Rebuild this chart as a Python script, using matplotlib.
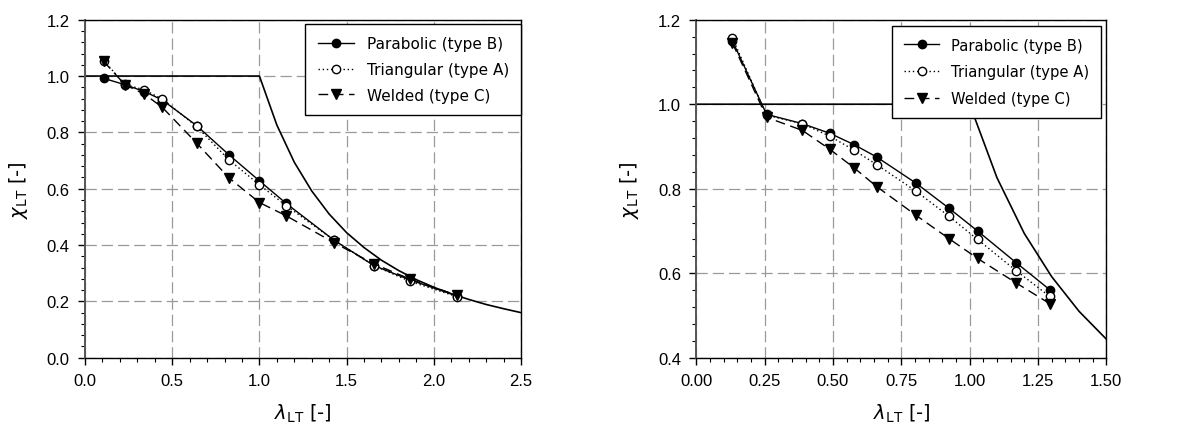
import numpy as np
import matplotlib
matplotlib.use('Agg')
import matplotlib.pyplot as plt
from matplotlib.ticker import MultipleLocator

# ─────────────────────────────────────────
# DATA
# ─────────────────────────────────────────

# left panel
LAM_L = [0.107, 0.229, 0.340, 0.443, 0.640, 0.826, 1.000, 1.153, 1.426, 1.657, 1.864, 2.131]
PARAB_L = [0.992, 0.969, 0.945, 0.915, 0.824, 0.720, 0.628, 0.548, 0.418, 0.327, 0.276, 0.220]
TRIANG_L = [1.055, 0.970, 0.951, 0.918, 0.821, 0.702, 0.614, 0.540, 0.418, 0.327, 0.271, 0.217]
WELDED_L = [1.052, 0.969, 0.936, 0.889, 0.762, 0.638, 0.551, 0.504, 0.409, 0.333, 0.279, 0.222]

# right panel
LAM_R = [0.132, 0.257, 0.388, 0.489, 0.578, 0.660, 0.804, 0.924, 1.029, 1.170, 1.293]
PARAB_R = [1.150, 0.976, 0.954, 0.931, 0.904, 0.875, 0.813, 0.754, 0.700, 0.625, 0.561]
TRIANG_R = [1.157, 0.974, 0.954, 0.924, 0.891, 0.857, 0.794, 0.735, 0.680, 0.606, 0.545]
WELDED_R = [1.145, 0.969, 0.938, 0.893, 0.849, 0.805, 0.737, 0.682, 0.635, 0.577, 0.528]

# reference (code) curve, sampled every 0.1
LAM_REF = [0.0, 1.0, 1.1, 1.2, 1.3, 1.4, 1.5, 1.6, 1.7, 1.8, 1.9, 2.0, 2.1, 2.2, 2.3, 2.4, 2.5]
CHI_REF = [1.0, 1.0, 0.826, 0.694, 0.592, 0.510, 0.444, 0.391, 0.346, 0.309, 0.277,
           0.250, 0.227, 0.207, 0.189, 0.174, 0.160]

SERIES_LABELS = ['Parabolic (type B)', 'Triangular (type A)', 'Welded (type C)']

plt.rcParams['mathtext.fontset'] = 'dejavusans'

fig = plt.figure(figsize=(11.96, 4.35), dpi=100)
ax_l = fig.add_axes([0.0711, 0.1754, 0.3645, 0.777])
ax_r = fig.add_axes([0.5822, 0.1754, 0.3428, 0.777])

LABEL_FONT = 'DejaVu Sans'
TICK_FONT = 'Liberation Sans'


def draw_panel(ax, lam, parab, triang, welded, xlim, ylim, xmaj, xmin, xfmt,
               legend_bbox, legend_size, legend_spacing):
    ax.plot(LAM_REF, CHI_REF, color='black', lw=1.2, zorder=2)
    ax.plot(lam, parab, color='black', lw=1.0, ls='-', marker='o', ms=6,
            mfc='black', mec='black', label=SERIES_LABELS[0], zorder=4)
    ax.plot(lam, triang, color='black', lw=1.0, ls=(0, (1, 2)), marker='o', ms=6,
            mfc='white', mec='black', label=SERIES_LABELS[1], zorder=5)
    ax.plot(lam, welded, color='black', lw=1.0, ls=(0, (7, 4)), marker='v', ms=6.5,
            mfc='black', mec='black', label=SERIES_LABELS[2], zorder=6)

    ax.set_xlim(*xlim)
    ax.set_ylim(*ylim)
    ax.xaxis.set_major_locator(MultipleLocator(xmaj))
    ax.xaxis.set_minor_locator(MultipleLocator(xmin))
    ax.yaxis.set_major_locator(MultipleLocator(0.2))
    ax.yaxis.set_minor_locator(MultipleLocator(0.04))
    ax.xaxis.set_major_formatter(plt.FormatStrFormatter(xfmt))
    ax.yaxis.set_major_formatter(plt.FormatStrFormatter('%.1f'))

    ax.grid(True, which='major', color='#9a9a9a', ls=(0, (9, 4)), lw=0.9, zorder=1)
    ax.tick_params(which='both', direction='out', top=False, right=False)
    ax.tick_params(which='major', length=5, width=1, labelsize=12, pad=6)
    ax.tick_params(which='minor', length=3, width=0.8)
    for lab in ax.get_xticklabels() + ax.get_yticklabels():
        lab.set_fontfamily(TICK_FONT)
    for sp in ax.spines.values():
        sp.set_linewidth(1.0)
        sp.set_color('black')
    ax.spines['left'].set_color('#555555')
    ax.spines['left'].set_linewidth(1.4)

    ax.set_xlabel(r'$\lambda_{\mathrm{LT}}$ [-]', fontsize=14, family=LABEL_FONT, labelpad=10)
    ax.set_ylabel(r'$\chi_{\mathrm{LT}}$ [-]', fontsize=14, family=LABEL_FONT, labelpad=12)

    leg = ax.legend(loc='upper right', bbox_to_anchor=legend_bbox, frameon=True,
                    fancybox=False, edgecolor='black', framealpha=1,
                    prop={'family': LABEL_FONT, 'size': legend_size},
                    handlelength=2.4, handletextpad=0.8, labelspacing=legend_spacing,
                    borderpad=0.8, borderaxespad=0)
    leg.get_frame().set_linewidth(1.0)
    leg.set_zorder(10)


draw_panel(ax_l, LAM_L, PARAB_L, TRIANG_L, WELDED_L, (0, 2.5), (0, 1.2),
           0.5, 0.1, '%.1f', (1.0, 0.987), 11, 0.7)
draw_panel(ax_r, LAM_R, PARAB_R, TRIANG_R, WELDED_R, (0, 1.5), (0.4, 1.2),
           0.25, 0.05, '%.2f', (0.987, 0.982), 10.6, 0.8)

fig.savefig('out.png', dpi=100)
